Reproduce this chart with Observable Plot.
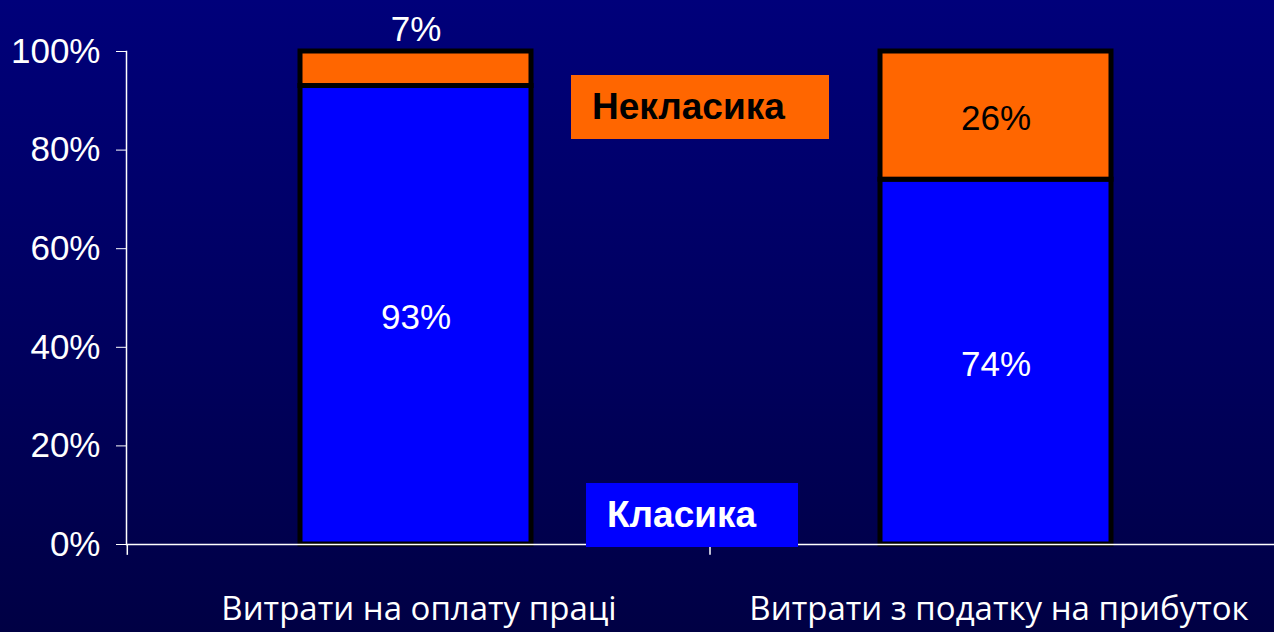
<!DOCTYPE html>
<html><head><meta charset="utf-8">
<script src="https://cdn.jsdelivr.net/npm/d3@7"></script>
<script src="https://cdn.jsdelivr.net/npm/@observablehq/plot@0.6"></script>
<style>
html,body{margin:0;padding:0;}
body{width:1274px;height:632px;overflow:hidden;background:linear-gradient(to bottom,#00007a 0%,#00005e 55%,#000044 100%);font-family:"Liberation Sans",Arial,sans-serif;}
#wrap{position:relative;width:1274px;height:632px;}
.leg{position:absolute;font-weight:bold;font-size:37px;box-sizing:border-box;display:flex;align-items:center;}
</style></head><body>
<div id="wrap"></div>
<script>
const categories = ["Витрати на оплату праці", "Витрати з податку на прибуток"];
const series = ["Класика", "Некласика"];
const classicValues = [93, 74];
const nonClassicValues = [7, 26];
const yTicks = [0, 20, 40, 60, 80, 100];
const colors = {"Класика": "#0000ff", "Некласика": "#ff6600"};

const rows = [];
categories.forEach((c, i) => {
  rows.push({cat: c, series: series[0], value: classicValues[i]});
  rows.push({cat: c, series: series[1], value: nonClassicValues[i]});
});
const labels = [];
categories.forEach((c, i) => {
  const a = classicValues[i], b = nonClassicValues[i];
  labels.push({cat: c, y: a / 2, text: a + "%", fill: "white"});
  if (b < 12) labels.push({cat: c, y: a + b, text: b + "%", fill: "white", above: true});
  else labels.push({cat: c, y: a + b / 2, text: b + "%", fill: "black"});
});

const chart = Plot.plot({
  width: 1274, height: 632,
  marginLeft: 126, marginRight: -10, marginTop: 51, marginBottom: 88,
  style: {background: "transparent", color: "white", fontFamily: "'Liberation Sans', Arial, sans-serif", fontSize: "34px", overflow: "visible"},
  x: {domain: categories, paddingInner: 0.602, paddingOuter: 0.298, label: null, axis: null},
  y: {domain: [0, 100], label: null, axis: null},
  color: {domain: series, range: series.map(s => colors[s])},
  marks: [
    Plot.barY(rows, Plot.stackY({x: "cat", y: "value", fill: "series", order: series, stroke: "black", strokeWidth: 5})),
    Plot.ruleY([0], {stroke: "white", strokeWidth: 1.5}),
    Plot.frame({anchor: "left", stroke: "white", strokeWidth: 1.5}),
    Plot.ruleX([categories[0]], {dx: -288.7, y1: 0, y2: -2.2, stroke: "white", strokeWidth: 1.5, clip: false}),
    Plot.ruleX([categories[0]], {dx: 294, y1: 0, y2: -2.2, stroke: "white", strokeWidth: 1.5, clip: false}),
    Plot.axisY(yTicks, {tickSize: 10, tickPadding: 16, tickFormat: d => d + "%", stroke: "white", fill: "white", fontSize: 35, label: null}),
    Plot.axisX({tickSize: 0, tickPadding: 52, fill: "white", fontSize: 33, fontFamily: "'Open Sans', sans-serif", label: null, dx: 3}),
    Plot.text(labels.filter(d => !d.above), {x: "cat", y: "y", text: "text", fill: "fill", fontSize: 35, dy: 3}),
    Plot.text(labels.filter(d => d.above), {x: "cat", y: "y", text: "text", fill: "fill", fontSize: 35, dy: -22})
  ]
});
const wrap = document.getElementById("wrap");
wrap.appendChild(chart);

const legendItems = [
  {name: series[1], bg: colors[series[1]], color: "black", left: 571, top: 75, w: 258, h: 64, pad: 21},
  {name: series[0], bg: colors[series[0]], color: "white", left: 586, top: 483, w: 212, h: 64, pad: 21}
];
legendItems.forEach(l => {
  const d = document.createElement("div");
  d.className = "leg";
  d.textContent = l.name;
  Object.assign(d.style, {left: l.left + "px", top: l.top + "px", width: l.w + "px", height: l.h + "px", background: l.bg, color: l.color, paddingLeft: l.pad + "px"});
  wrap.appendChild(d);
});
</script>
</body></html>
